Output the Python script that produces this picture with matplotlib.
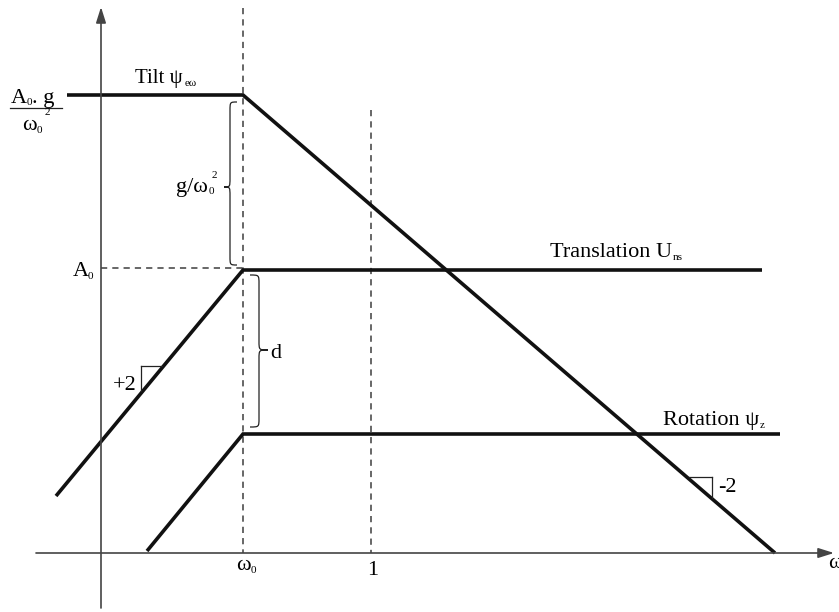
import numpy as np
import matplotlib.pyplot as plt
from matplotlib.path import Path
from matplotlib.patches import PathPatch

plt.rcParams['font.family'] = ['Liberation Serif', 'DejaVu Serif']

# break points of the three asymptote curves (drawing units = pixels)
tilt_x = [67, 243, 775]
tilt_y = [95, 95, 553]
trans_x = [56, 243, 762]
trans_y = [496, 270, 270]
rot_x = [147, 243, 780]
rot_y = [551, 434, 434]

w0_x = 243      # corner frequency omega_0
one_x = 371     # omega = 1
a0_y = 268      # level A_0
origin = (101, 553)

ink = '#111111'
axis_col = '#444444'
dash_col = '#666666'

fig = plt.figure(figsize=(8.39, 6.12), dpi=100)
ax = fig.add_axes([0, 0, 1, 1])
ax.set_xlim(0, 839)
ax.set_ylim(612, 0)
ax.axis('off')

# axes with arrows
arr = dict(arrowstyle='-|>,head_length=0.95,head_width=0.3', lw=1.2,
           color=axis_col, mutation_scale=10, shrinkA=0, shrinkB=0)
ax.annotate('', xy=(origin[0], 7), xytext=(origin[0], 608), arrowprops=arr)
ax.annotate('', xy=(834, origin[1]), xytext=(36, origin[1]), arrowprops=arr)

# dashed guides
dkw = dict(color=dash_col, lw=1.4, dashes=(3.2, 2.6))
ax.plot([w0_x, w0_x], [8, origin[1]], **dkw)
ax.plot([one_x, one_x], [110, origin[1]], **dkw)
ax.plot([origin[0], w0_x], [a0_y, a0_y], **dkw)

# curves
lkw = dict(color=ink, lw=2.6, solid_capstyle='butt', solid_joinstyle='miter')
ax.plot(tilt_x, tilt_y, **lkw)
ax.plot(trans_x, trans_y, **lkw)
ax.plot(rot_x, rot_y, **lkw)

# slope triangles
tkw = dict(color='#222222', lw=0.9)
ax.plot([141, 162], [366, 366], **tkw)
ax.plot([141, 141], [366, 391], **tkw)
ax.plot([689, 712], [477, 477], **tkw)
ax.plot([712, 712], [477, 498], **tkw)


def brace(x_end, x_body, x_tip, y0, y1, ym):
    r = 9
    verts = [(x_end, y0), (x_body, y0), (x_body, y0), (x_body, y0 + r),
             (x_body, ym - r),
             (x_body, ym), (x_body, ym), (x_tip, ym),
             (x_body, ym), (x_body, ym), (x_body, ym + r),
             (x_body, y1 - r),
             (x_body, y1), (x_body, y1), (x_end, y1)]
    codes = [Path.MOVETO, Path.CURVE4, Path.CURVE4, Path.CURVE4,
             Path.LINETO,
             Path.CURVE4, Path.CURVE4, Path.CURVE4,
             Path.CURVE4, Path.CURVE4, Path.CURVE4,
             Path.LINETO,
             Path.CURVE4, Path.CURVE4, Path.CURVE4]
    ax.add_patch(PathPatch(Path(verts, codes), fill=False, lw=0.9, color='#222222'))


brace(237, 230, 224, 102, 265, 187)
brace(250, 259, 268, 275, 427, 350)

# labels
fs = 16
sfs = 8
ax.text(135, 83, 'Tilt ψ', fontsize=15, va='baseline')
ax.text(185, 86, 'eω', fontsize=sfs, va='baseline')

ax.text(550, 257, 'Translation U', fontsize=fs, va='baseline')
ax.text(673, 260, 'ns', fontsize=sfs, va='baseline')

ax.text(663, 425, 'Rotation ψ', fontsize=fs, va='baseline')
ax.text(760, 428, 'z', fontsize=sfs, va='baseline')

ax.text(73, 276, 'A', fontsize=fs, va='baseline')
ax.text(88, 279, '0', fontsize=sfs, va='baseline')

# A0.g / w0^2 fraction
ax.text(11, 103, 'A', fontsize=fs, va='baseline')
ax.text(27, 105, '0', fontsize=sfs, va='baseline')
ax.text(32, 103, '. g', fontsize=fs, va='baseline')
ax.plot([10, 62], [108, 108], color='#222222', lw=0.9)
ax.text(22, 130, 'ω', fontsize=fs, va='baseline')
ax.text(37, 133, '0', fontsize=sfs, va='baseline')
ax.text(45, 115, '2', fontsize=sfs, va='baseline')

ax.text(208, 192, 'g/ω', fontsize=fs, va='baseline', ha='right')
ax.text(209, 194, '0', fontsize=sfs, va='baseline')
ax.text(212, 178, '2', fontsize=sfs, va='baseline')

ax.text(270, 358, 'd', fontsize=fs, va='baseline')
ax.text(137, 390, '+2', fontsize=fs, va='baseline', ha='right')
ax.text(718, 492, '-2', fontsize=fs, va='baseline')

ax.text(236, 570, 'ω', fontsize=fs, va='baseline')
ax.text(251, 573, '0', fontsize=sfs, va='baseline')
ax.text(367, 575, '1', fontsize=fs, va='baseline')
ax.text(828, 568, 'ω', fontsize=fs, va='baseline')

fig.savefig('out.png', dpi=100)
